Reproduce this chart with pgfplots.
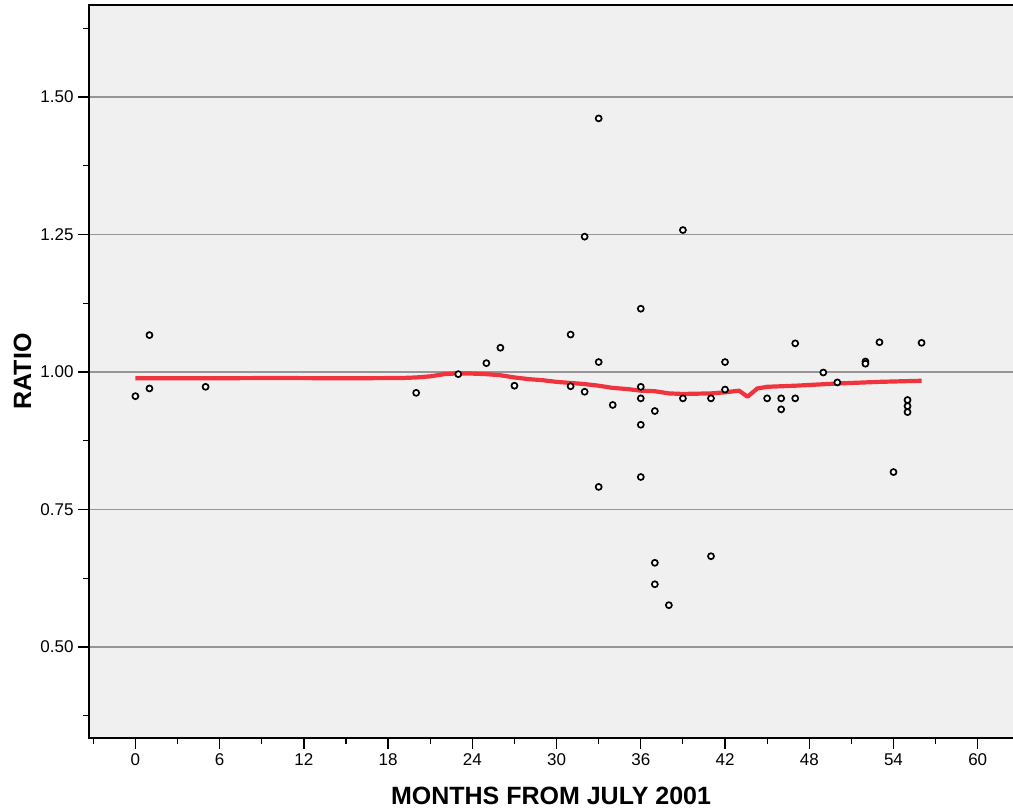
\documentclass[border=0pt]{standalone}
\usepackage{pgfplots}
\pgfplotsset{compat=1.18}
\usepackage{fontspec}
\setmainfont{Liberation Sans}
\definecolor{bgc}{RGB}{240,240,240}
\definecolor{gridc}{RGB}{150,150,150}
\definecolor{fitc}{RGB}{240,52,62}
\begin{document}
\begin{tikzpicture}[x=1pt,y=1pt]
\useasboundingbox (-89,-72) rectangle (924,738);
\clip (-89,-72) rectangle (924,738);
\begin{axis}[
  scale only axis,
  width=930pt, height=733pt,
  at={(0,0)}, anchor=south west,
  xmin=-3.305, xmax=62.94,
  ymin=0.3345, ymax=1.6672,
  axis background/.style={fill=bgc},
  axis line style={black, line width=1.3pt},
  xtick={0,6,...,60},
  minor xtick={-3,3,...,63},
  ytick={0.5,0.75,1.0,1.25,1.5},
  yticklabels={0.50,0.75,1.00,1.25,1.50},
  minor ytick={0.375,0.625,0.875,1.125,1.375,1.625},
  tick align=outside,
  xtick pos=bottom, ytick pos=left,
  major tick length=11pt, minor tick length=6pt,
  every tick/.style={black, line width=1.4pt},
  minor tick style={black, line width=1.1pt},
  ymajorgrids,
  major grid style={gridc, line width=1.8pt},
  /pgf/number format/assume math mode=true,
  tick label style={font=\fontsize{17}{19}\selectfont},
  xticklabel style={yshift=-1pt},
  yticklabel style={xshift=-1pt},
  xlabel={\textbf{MONTHS FROM JULY 2001}},
  ylabel={\textbf{RATIO}},
  label style={font=\fontsize{25}{27}\selectfont},
  xlabel style={at={(axis description cs:0.4968,-0.0784)}, anchor=center},
  ylabel style={at={(axis description cs:-0.0715,0.5)}, anchor=center, rotate=0},
  clip=false,
]
\addplot[fitc, line width=4.2pt, line join=round] coordinates {
(0,0.9885) (5,0.9885) (10,0.9890) (15,0.9885) (19,0.989) (20,0.990) (21,0.992)
(22,0.996) (23,0.9975) (24,0.997) (25,0.996) (26,0.994) (27,0.990) (28,0.987)
(29,0.985) (30,0.982) (31,0.980) (32,0.978) (33,0.975) (34,0.971) (35,0.969)
(36,0.966) (37,0.965) (38,0.961) (39,0.960) (40,0.9605) (41,0.961) (42,0.963)
(43,0.966) (43.6,0.955) (44.3,0.970) (45,0.973) (47,0.975) (50,0.979) (53,0.982) (56,0.984)
};
\addplot[only marks, mark=*, mark size=3pt,
  mark options={draw=black, fill=white, line width=1.7pt}] coordinates {
(0,0.956) (1,1.067) (1,0.970) (5,0.973) (20,0.962) (23,0.996) (25,1.016) (26,1.044)
(27,0.975) (31,1.068) (31,0.974) (32,1.246) (32,0.964) (33,1.461) (33,1.018) (33,0.791)
(34,0.940) (36,1.115) (36,0.973) (36,0.952) (36,0.904) (36,0.809) (37,0.929) (37,0.653)
(37,0.614) (38,0.576) (39,1.258) (39,0.952) (41,0.952) (41,0.665) (42,1.018) (42,0.968)
(45,0.952) (46,0.952) (46,0.932) (47,1.052) (47,0.952) (49,0.999) (50,0.981)
(52,1.019) (52,1.015) (53,1.054) (54,0.818) (55,0.949) (55,0.938) (55,0.927) (56,1.053)
};
\end{axis}
\end{tikzpicture}
\end{document}
